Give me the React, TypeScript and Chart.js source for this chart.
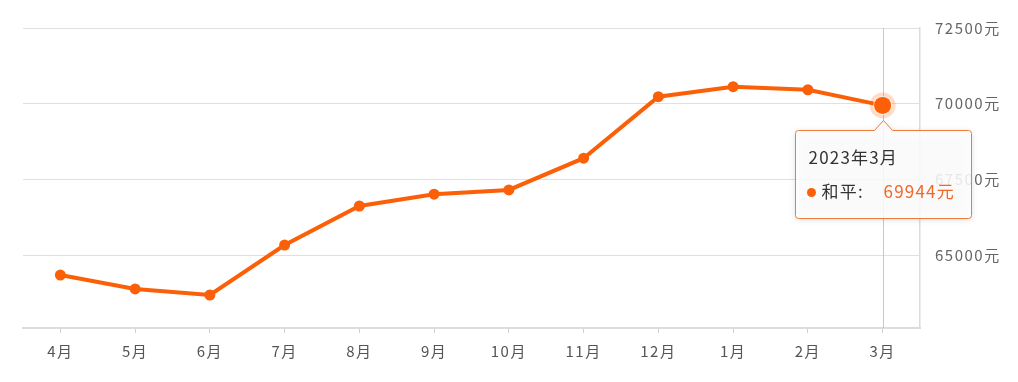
import React, { useEffect, useRef } from "react";
import { Chart, registerables } from "chart.js";

Chart.register(...registerables);

const categories = ["4月", "5月", "6月", "7月", "8月", "9月", "10月", "11月", "12月", "1月", "2月", "3月"];
const fullLabels = ["2022年4月", "2022年5月", "2022年6月", "2022年7月", "2022年8月", "2022年9月", "2022年10月", "2022年11月", "2022年12月", "2023年1月", "2023年2月", "2023年3月"];
const seriesName = "和平";
const prices = [64340, 63880, 63680, 65330, 66620, 67010, 67150, 68200, 70230, 70560, 70460, 69944];
const yTicks = [65000, 67500, 70000, 72500];
const yMin = 62590;
const yMax = 72500;
const activeIndex = 11;

const ORANGE = "#fb6009";
const FONT = "'Noto Sans CJK SC', 'Microsoft YaHei', sans-serif";

export default function App() {
  const ref = useRef<HTMLCanvasElement | null>(null);

  useEffect(() => {
    document.body.style.margin = "0";
    const canvas = ref.current;
    if (!canvas) return;

    const overlay = {
      id: "overlay",
      beforeDraw(chart: any) {
        (chart.ctx as any).letterSpacing = "1.5px";
      },
      beforeDatasetsDraw(chart: any) {
        const meta = chart.getDatasetMeta(0);
        const el = meta.data[activeIndex];
        if (!el) return;
        const { ctx, chartArea } = chart;
        ctx.save();
        ctx.strokeStyle = "#c8c8c8";
        ctx.lineWidth = 1;
        ctx.beginPath();
        const x = Math.round(el.x) + 0.5;
        ctx.moveTo(x, chartArea.top);
        ctx.lineTo(x, chartArea.bottom);
        ctx.stroke();
        ctx.restore();
      },
      afterDatasetsDraw(chart: any) {
        const meta = chart.getDatasetMeta(0);
        const el = meta.data[activeIndex];
        if (!el) return;
        const ctx = chart.ctx;
        ctx.save();
        ctx.fillStyle = "rgba(251,96,9,0.22)";
        ctx.beginPath();
        ctx.arc(el.x, el.y, 13, 0, Math.PI * 2);
        ctx.fill();
        ctx.fillStyle = "rgba(255,255,255,0.6)";
        ctx.beginPath();
        ctx.arc(el.x, el.y, 9.5, 0, Math.PI * 2);
        ctx.fill();
        ctx.fillStyle = ORANGE;
        ctx.beginPath();
        ctx.arc(el.x, el.y, 8.5, 0, Math.PI * 2);
        ctx.fill();
        ctx.restore();
      },
      afterDraw(chart: any) {
        const meta = chart.getDatasetMeta(0);
        const el = meta.data[activeIndex];
        if (!el) return;
        const ctx = chart.ctx;
        const w = 176;
        const h = 88;
        const bx = Math.round(el.x) - 88 + 0.5;
        const by = Math.round(el.y) + 25 + 0.5;
        const cx = Math.round(el.x) + 0.5;
        ctx.save();
        ctx.beginPath();
        const r = 3;
        ctx.moveTo(bx + r, by);
        ctx.lineTo(cx - 9, by);
        ctx.lineTo(cx, by - 10);
        ctx.lineTo(cx + 9, by);
        ctx.lineTo(bx + w - r, by);
        ctx.arcTo(bx + w, by, bx + w, by + r, r);
        ctx.lineTo(bx + w, by + h - r);
        ctx.arcTo(bx + w, by + h, bx + w - r, by + h, r);
        ctx.lineTo(bx + r, by + h);
        ctx.arcTo(bx, by + h, bx, by + h - r, r);
        ctx.lineTo(bx, by + r);
        ctx.arcTo(bx, by, bx + r, by, r);
        ctx.closePath();
        ctx.shadowColor = "rgba(0,0,0,0.16)";
        ctx.shadowBlur = 6;
        ctx.shadowOffsetY = 1;
        ctx.fillStyle = "rgba(255,255,255,0.86)";
        ctx.fill();
        ctx.shadowColor = "transparent";
        ctx.strokeStyle = "#ee7a3c";
        ctx.lineWidth = 1;
        ctx.stroke();
        (ctx as any).letterSpacing = "1.2px";
        ctx.textBaseline = "middle";
        ctx.textAlign = "left";
        ctx.font = `17px ${FONT}`;
        ctx.fillStyle = "#333333";
        ctx.fillText(fullLabels[activeIndex], bx + 13, by + 27);
        ctx.fillStyle = ORANGE;
        ctx.beginPath();
        ctx.arc(bx + 16, by + 62, 4.5, 0, Math.PI * 2);
        ctx.fill();
        ctx.fillStyle = "#333333";
        ctx.fillText(seriesName + ":", bx + 26, by + 61);
        ctx.fillStyle = "#f0672a";
        ctx.fillText(prices[activeIndex] + "元", bx + 88, by + 61);
        ctx.restore();
      },
    };

    const chart = new Chart(canvas, {
      type: "line",
      data: {
        labels: categories,
        datasets: [
          {
            label: seriesName,
            data: prices,
            borderColor: ORANGE,
            backgroundColor: ORANGE,
            borderWidth: 4,
            pointRadius: 5.5,
            pointBackgroundColor: ORANGE,
            pointBorderWidth: 0,
            tension: 0,
          },
        ],
      },
      options: {
        animation: false,
        responsive: false,
        events: [],
        layout: { padding: { left: 23, top: 28, right: 0, bottom: 0 } },
        plugins: {
          legend: { display: false },
          tooltip: { enabled: false },
        },
        scales: {
          x: {
            offset: true,
            grid: {
              display: true,
              drawOnChartArea: false,
              drawTicks: true,
              tickLength: 5,
              color: "#cfcfcf",
            },
            border: { display: true, color: "#dcdcdc", width: 2 },
            ticks: {
              color: "#555555",
              font: { size: 15, family: FONT },
              padding: 9,
              maxRotation: 0,
              autoSkip: false,
            },
            afterFit(scale: any) {
              scale.height = 54;
            },
          },
          y: {
            position: "right",
            min: yMin,
            max: yMax,
            afterBuildTicks(scale: any) {
              scale.ticks = yTicks.map((v) => ({ value: v }));
            },
            grid: {
              color: "#e0e0e0",
              lineWidth: 1,
              drawTicks: false,
            },
            border: { display: true, color: "#dcdcdc", width: 1.5 },
            ticks: {
              color: "#666666",
              font: { size: 15, family: FONT },
              padding: 15,
              callback: (v: any) => v + "元",
            },
            afterFit(scale: any) {
              scale.width = 98;
            },
          },
        },
      },
      plugins: [overlay],
    });

    return () => chart.destroy();
  }, []);

  return (
    <div style={{ width: 1018, height: 382, position: "relative", background: "#fff" }}>
      <canvas ref={ref} width={1018} height={382} style={{ display: "block" }} />
    </div>
  );
}
